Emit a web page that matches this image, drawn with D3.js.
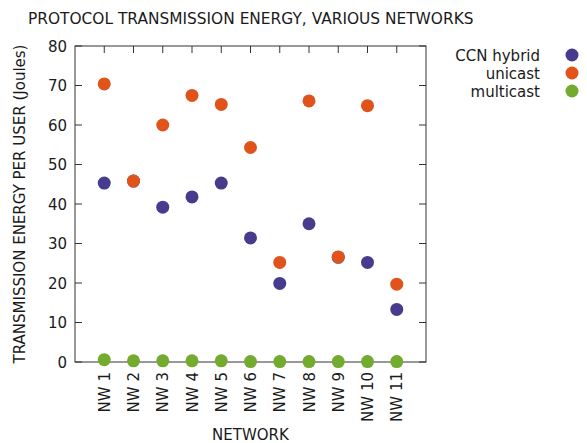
<!DOCTYPE html>
<html>
<head>
<meta charset="utf-8">
<script src="https://cdn.jsdelivr.net/npm/d3@7"></script>
<style>
  body { margin: 0; background: #fff; }
  text { font-family: "DejaVu Sans", sans-serif; fill: #1a1a1a; }
</style>
</head>
<body>
<div id="container"></div>
<script>
const width = 587;
const height = 443;

// data
const networks = ["NW 1", "NW 2", "NW 3", "NW 4", "NW 5", "NW 6", "NW 7", "NW 8", "NW 9", "NW 10", "NW 11"];
const ccnHybrid = [45.3, 45.8, 39.2, 41.8, 45.3, 31.4, 19.9, 35.0, 26.5, 25.2, 13.3];
const unicast = [70.4, 45.8, 60.0, 67.5, 65.2, 54.3, 25.2, 66.1, 26.6, 64.9, 19.7];
const multicast = [0.6, 0.3, 0.3, 0.3, 0.3, 0.1, 0.1, 0.1, 0.1, 0.1, 0.1];
const yTicks = [0, 10, 20, 30, 40, 50, 60, 70, 80];

const series = [
  { name: "CCN hybrid", values: ccnHybrid, color: "#473b8d" },
  { name: "unicast", values: unicast, color: "#e0531b" },
  { name: "multicast", values: multicast, color: "#72ab2e" }
];

const margin = { left: 75, right: 161, top: 46, bottom: 81 };
const fs = 15;
const svg = d3.select("#container").append("svg")
  .attr("width", width)
  .attr("height", height);

const x = d3.scaleLinear().domain([0, networks.length + 1]).range([margin.left, width - margin.right]);
const y = d3.scaleLinear().domain([0, 80]).range([height - margin.bottom, margin.top]);

// title
svg.append("text")
  .attr("x", 28).attr("y", 24)
  .attr("font-size", 15.4)
  .text("PROTOCOL TRANSMISSION ENERGY, VARIOUS NETWORKS");

// ticks (inside, mirrored)
const tickLen = 7;
const g = svg.append("g").attr("stroke", "#333").attr("stroke-width", 1);
yTicks.forEach((t) => {
  g.append("line").attr("x1", x(0)).attr("x2", x(0) + tickLen).attr("y1", y(t)).attr("y2", y(t));
  g.append("line").attr("x1", x(12)).attr("x2", x(12) - tickLen).attr("y1", y(t)).attr("y2", y(t));
});
networks.forEach((n, i) => {
  g.append("line").attr("x1", x(i + 1)).attr("x2", x(i + 1)).attr("y1", y(0)).attr("y2", y(0) - tickLen);
  g.append("line").attr("x1", x(i + 1)).attr("x2", x(i + 1)).attr("y1", y(80)).attr("y2", y(80) + tickLen);
});

// frame
svg.append("rect")
  .attr("x", x(0)).attr("y", y(80))
  .attr("width", x(12) - x(0)).attr("height", y(0) - y(80))
  .attr("fill", "none").attr("stroke", "#333").attr("stroke-width", 1);

// y tick labels
svg.append("g").selectAll("text").data(yTicks).join("text")
  .attr("x", x(0) - 8).attr("y", (d) => y(d) + 5.5)
  .attr("text-anchor", "end")
  .attr("font-size", fs)
  .text((d) => d);

// x tick labels (rotated)
svg.append("g").selectAll("text").data(networks).join("text")
  .attr("transform", (d, i) => `translate(${x(i + 1) + 5.5},${y(0) + 10}) rotate(-90)`)
  .attr("text-anchor", "end")
  .attr("font-size", fs)
  .text((d) => d);

// axis titles
svg.append("text")
  .attr("transform", `translate(25,${(y(0) + y(80)) / 2}) rotate(-90)`)
  .attr("text-anchor", "middle")
  .attr("font-size", fs)
  .text("TRANSMISSION ENERGY PER USER (Joules)");

svg.append("text")
  .attr("x", (x(0) + x(12)) / 2).attr("y", 440)
  .attr("text-anchor", "middle")
  .attr("font-size", fs)
  .text("NETWORK");

// points
series.forEach((s) => {
  svg.append("g").selectAll("circle").data(s.values).join("circle")
    .attr("cx", (d, i) => x(i + 1))
    .attr("cy", (d) => y(d))
    .attr("r", 6.5)
    .attr("fill", s.color);
});

// legend
const legend = svg.append("g").selectAll("g").data(series).join("g")
  .attr("transform", (d, i) => `translate(0,${55 + i * 18})`);
legend.append("text")
  .attr("x", 540).attr("y", 5.5)
  .attr("text-anchor", "end")
  .attr("font-size", fs)
  .text((d) => d.name);
legend.append("circle")
  .attr("cx", 572).attr("cy", 0).attr("r", 6.5)
  .attr("fill", (d) => d.color);
</script>
</body>
</html>
